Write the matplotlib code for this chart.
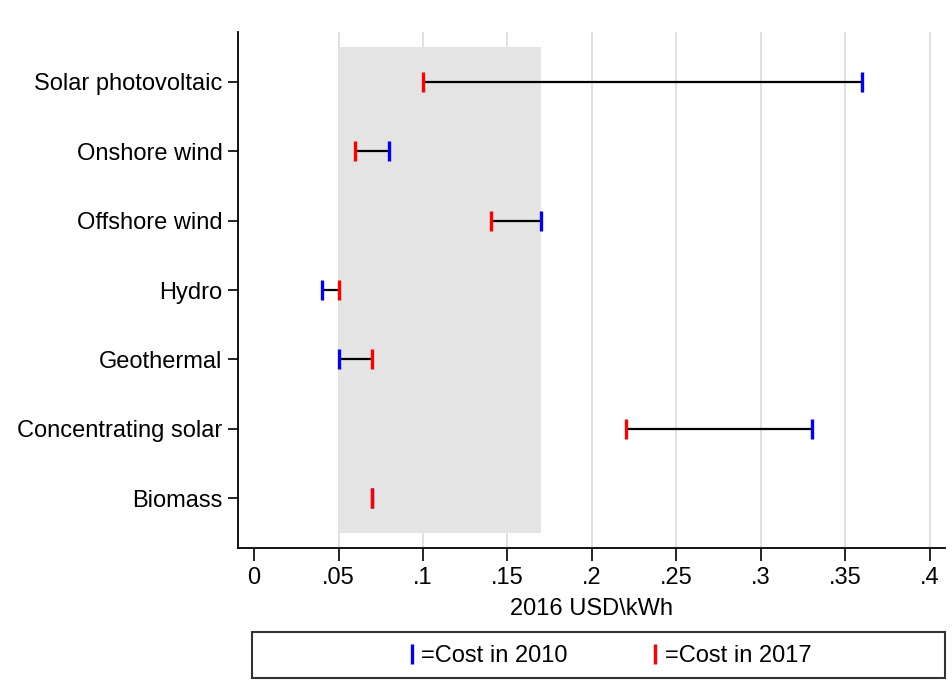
import matplotlib.pyplot as plt
import matplotlib.patches as mpatches
from matplotlib.lines import Line2D
import numpy as np

plt.rcParams['font.family'] = ['Liberation Sans', 'DejaVu Sans']

techs = ["Solar photovoltaic", "Onshore wind", "Offshore wind", "Hydro",
         "Geothermal", "Concentrating solar", "Biomass"]
cost_2010 = [0.36, 0.08, 0.17, 0.04, 0.05, 0.33, 0.07]
cost_2017 = [0.10, 0.06, 0.14, 0.05, 0.07, 0.22, 0.07]
fossil_range = (0.05, 0.17)
xticks = [0, 0.05, 0.1, 0.15, 0.2, 0.25, 0.3, 0.35, 0.4]
xticklabels = ["0", ".05", ".1", ".15", ".2", ".25", ".3", ".35", ".4"]

y = np.arange(len(techs), 0, -1)
fs = 17

fig = plt.figure(figsize=(9.52, 6.98), dpi=100)
ax = fig.add_axes([238/952, 1-548/698, (945-238)/952, (548-32)/698])

ax.set_xlim(-0.0095, 0.409)
ax.set_ylim(0.28, 7.72)
for t in xticks[1:]:
    ax.axvline(t, color='#dcdcdc', lw=1.2, zorder=0)
ax.axvspan(fossil_range[0], fossil_range[1], ymin=(0.5-0.28)/7.44, ymax=(7.5-0.28)/7.44,
           color='#e4e4e4', zorder=1, lw=0)

ax.hlines(y, cost_2017, cost_2010, color='black', lw=1.6, zorder=2)
ax.plot(cost_2010, y, ls='none', marker='|', ms=14, mew=2.4, color='blue', zorder=3)
ax.plot(cost_2017, y, ls='none', marker='|', ms=14, mew=2.4, color='red', zorder=4)

ax.set_yticks(y)
ax.set_yticklabels(techs, fontsize=fs)
ax.set_xticks(xticks)
ax.set_xticklabels(xticklabels, fontsize=fs)
ax.tick_params(axis='x', length=9, width=1.2, pad=5)
ax.tick_params(axis='y', length=7, width=1.2, pad=4)
ax.set_xlabel("2016 USD\\kWh", fontsize=fs, labelpad=6)
for s in ['top', 'right']:
    ax.spines[s].set_visible(False)
for s in ['left', 'bottom']:
    ax.spines[s].set_linewidth(1.3)

box = mpatches.Rectangle((252/952, 1-678/698), (945-252)/952, 46/698,
                         transform=fig.transFigure, fill=False, ec='#333333', lw=1.5)
fig.patches.append(box)
h1 = Line2D([], [], ls='none', marker='|', ms=14, mew=2.4, color='blue')
h2 = Line2D([], [], ls='none', marker='|', ms=14, mew=2.4, color='red')
fig.legend([h1, h2], ["=Cost in 2010", "=Cost in 2017"], loc='center',
           bbox_to_anchor=(608/952, 1-656/698), ncol=2, frameon=False,
           fontsize=fs, handlelength=0.6, handletextpad=0.1, columnspacing=3.4,
           borderpad=0)

fig.savefig("out.png", dpi=100)
